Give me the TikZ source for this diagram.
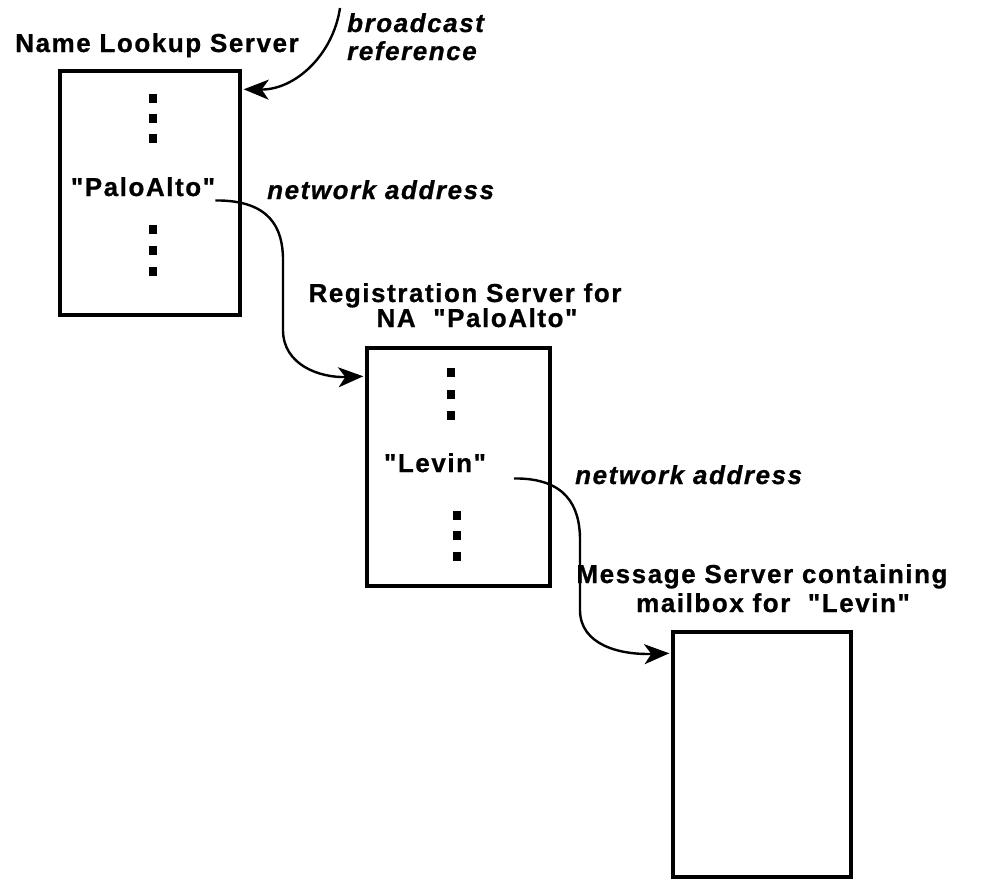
\documentclass[tikz,border=0pt]{standalone}
\usepackage{fontspec}
\setmainfont{Liberation Sans}[LetterSpace=6, Ligatures=TeXOff,
  BoldFeatures={FakeBold=0.8}, BoldItalicFeatures={FakeBold=0.8}]
\usetikzlibrary{arrows.meta}
\begin{document}
\begin{tikzpicture}[x=1pt, y=-1pt,
  server/.style={draw, line width=3.4pt, inner sep=0pt, rectangle},
  dotmark/.style={fill, inner sep=0pt, minimum width=8pt, minimum height=9pt},
  lbl/.style={font=\fontsize{26}{30}\selectfont\bfseries, inner sep=0pt},
  lbli/.style={font=\fontsize{26}{30}\selectfont\bfseries\itshape, inner sep=0pt},
  link/.style={line width=2.4pt, -{Stealth[length=25pt, width=20pt, inset=7pt]}}]
\useasboundingbox (0,0) rectangle (982,879);

% server boxes
\node[server, minimum width=180pt, minimum height=244pt] (nls) at (150,193) {};
\node[server, minimum width=183pt, minimum height=238pt] (rs)  at (458.5,467) {};
\node[server, minimum width=178pt, minimum height=245pt] (ms)  at (762,754.5) {};

% titles
\node[lbl, anchor=base] (nlstitle) at (157,52) {Name Lookup Server};
\node[lbl, anchor=base] (rstitle1) at (465,302) {Registration Server for};
\node[lbl, anchor=base] (rstitle2) at (477,327) {NA\ \ "PaloAlto"};
\node[lbl, anchor=base] (mstitle1) at (762,583) {Message Server containing};
\node[lbl, anchor=base] (mstitle2) at (773,612) {mailbox for\ \ "Levin"};

% entries
\node[lbl, anchor=base] (pa) at (143,196) {"PaloAlto"};
\node[lbl, anchor=base] (lv) at (435,472) {"Levin"};

% elision marks
\node[dotmark] (d1) at (153,98) {};
\node[dotmark] (d2) at (153,118) {};
\node[dotmark] (d3) at (153,138) {};
\node[dotmark] (d4) at (153,229) {};
\node[dotmark] (d5) at (153,250) {};
\node[dotmark] (d6) at (153,271) {};
\node[dotmark] (d7) at (451,372) {};
\node[dotmark] (d8) at (451,394) {};
\node[dotmark] (d9) at (451,415) {};
\node[dotmark] (d10) at (457,515) {};
\node[dotmark] (d11) at (457,535) {};
\node[dotmark] (d12) at (457,556) {};

% italic annotations
\node[lbli, anchor=base west] (bc1) at (347,32) {broadcast};
\node[lbli, anchor=base west] (bc2) at (347,60) {reference};
\node[lbli, anchor=base west] (na1) at (267,199) {network address};
\node[lbli, anchor=base west] (na2) at (575,484) {network address};

% connectors
\coordinate (bcstart) at (340,8);
\draw[link] (bcstart) .. controls (333,55) and (295,90) .. ([xshift=2pt,yshift=-20pt]nls.north east);
\draw[link] ([yshift=-4pt]pa.south east) .. controls (270,200) and (283,228) .. (283,260)
  -- (283,330) .. controls (283,365) and (320,378) .. ([xshift=-2pt,yshift=-30pt]rs.north west);
\draw[link] ([xshift=28pt,yshift=-6pt]lv.south east) .. controls (565,478) and (580,505) .. (580,540)
  -- (580,610) .. controls (580,645) and (620,655) .. ([xshift=-2pt,yshift=-23pt]ms.north west);
\end{tikzpicture}
\end{document}
